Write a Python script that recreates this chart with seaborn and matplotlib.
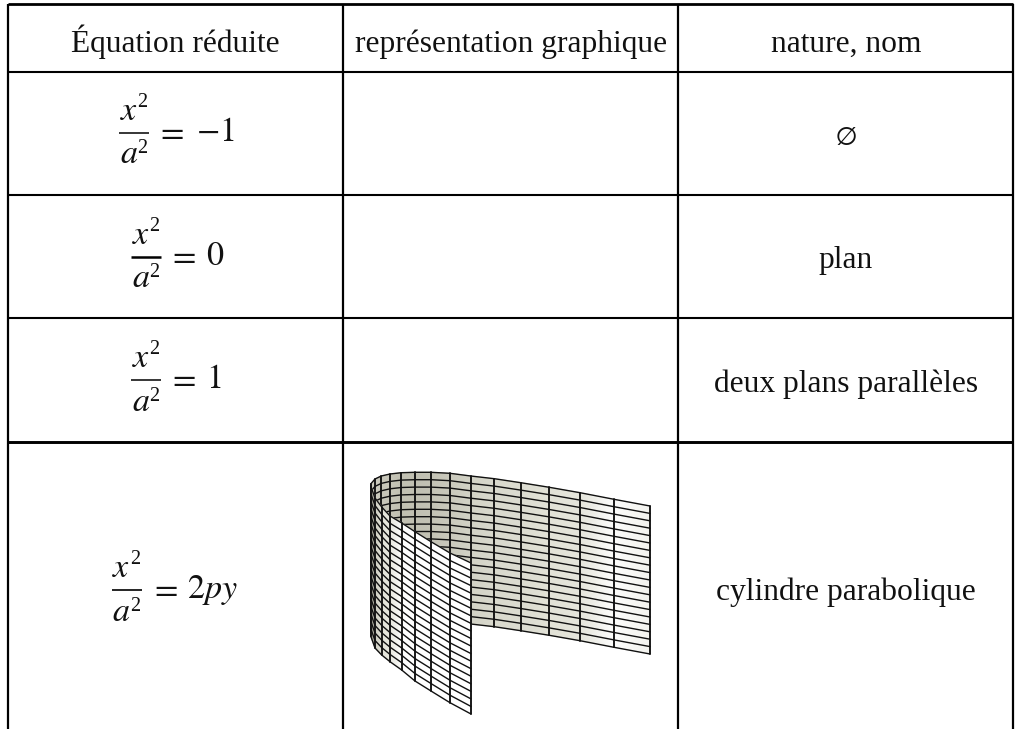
import numpy as np
import pandas as pd
import matplotlib
matplotlib.use("Agg")
import matplotlib.pyplot as plt
import seaborn as sns

# ---- table content ----
headers = ["Équation réduite", "représentation graphique", "nature, nom"]
equation_rhs = [r"$-1$", r"$0$", r"$1$", r"$2py$"]
natures = ["plan", "deux plans parallèles", "cylindre parabolique"]
empty_set = r"$\varnothing$"

column_rules = [8, 343, 678, 1013]
row_rules = [4, 71.5, 194.5, 317.5, 441.5]
row_widths = [2.0, 1.5, 1.5, 1.5, 2.1]
header_base = [52]
bar_y = [132.7, 256.7, 380, 590]
bar_left = [119, 131, 131, 112]
bar_width = [1.1, 1.8, 1.1, 1.2]
equal_left = [155.5, 168, 168, 149.5]
rhs_left = [195.5, 206, 206, 187]
nature_base = [268.3, 391.5, 600]
column_centers = [175.5, 511, 846]

# ---- surface ribs (back sheet, from open end to the fold) ----
back_x = [650, 614, 580, 549.3, 520.7, 494.3, 470.7, 450, 431, 415, 401.3, 390, 381.3, 375, 370.7]
back_top = [506, 499.3, 492.7, 487.3, 482.7, 478.7, 476, 473.3, 472.3, 472.3, 472.7, 474, 476, 479, 484]
back_shade = [0.94, 0.99, 0.87, 0.84, 0.80, 0.77, 0.74, 0.71, 0.69, 0.68, 0.68, 0.70, 0.70, 0.72, 0.70]
# front sheet, from the fold to the near edge
front_x = [370.7, 375, 381.7, 390, 401.7, 415, 431, 450, 471]
front_top = [486, 498, 507, 516, 523, 531.7, 541.7, 553, 563]
front_bottom = [636, 648, 655, 661.7, 670, 681, 691, 702.7, 714]
front_shade = [0.55, 0.72, 0.85, 0.88, 0.99, 1.0, 1.0, 1.0, 1.0]
back_height = [148]
segments = [20]

sns.set_theme(style="white")
plt.rcParams["font.family"] = ["Liberation Serif", "DejaVu Serif"]
plt.rcParams["mathtext.fontset"] = "stix"

fig = plt.figure(figsize=(10.16, 7.29), dpi=100, facecolor="white")
ax = fig.add_axes([0, 0, 1, 1])
ax.set_xlim(0, 1016)
ax.set_ylim(729, 0)
ax.axis("off")

cmap = sns.blend_palette(["#6f6e62", "#b0ae9f", "#d6d6ca", "#e6e6dc", "#ffffff"], as_cmap=True)


def sheet(xs, tops, bottoms, shades, z):
    xs, tops, bottoms = map(np.asarray, (xs, tops, bottoms))
    frac = np.arange(segments[0] + 1) / segments[0]
    X = np.tile(xs, (len(frac), 1))
    Y = np.outer(frac, bottoms - tops) + tops
    C = np.tile(np.asarray(shades), (len(frac), 1))
    ax.pcolormesh(X, Y, C, cmap=cmap, vmin=0.5, vmax=1.0, shading="gouraud", zorder=z)
    ribs = pd.DataFrame({"x": X.ravel(order="F"), "y": Y.ravel(order="F"),
                         "u": np.repeat(np.arange(len(xs)), len(frac))})
    sns.lineplot(data=ribs, x="x", y="y", units="u", estimator=None, sort=False,
                 color="#111111", lw=1.35, ax=ax, zorder=z + 0.1, legend=False)
    rows = pd.DataFrame({"x": X.ravel(), "y": Y.ravel(),
                         "u": np.repeat(np.arange(len(frac)), len(xs))})
    sns.lineplot(data=rows, x="x", y="y", units="u", estimator=None, sort=False,
                 color="#111111", lw=1.0, ax=ax, zorder=z + 0.2, legend=False)


sheet(back_x, back_top, np.array(back_top) + back_height[0], back_shade, 2)
sheet(front_x, front_top, front_bottom, front_shade, 3)

# ---- table rules ----
ax.vlines(column_rules, row_rules[0], 729, color="black", lw=1.6, zorder=5)
for y, w in zip(row_rules, row_widths):
    ax.hlines(y, column_rules[0], column_rules[-1], color="black", lw=w, zorder=5,
              capstyle="butt")

# ---- text ----
TXT = "#111111"
TS = 22.7
MS = 24.5
SS = 14.5
for x, h in zip(column_centers, headers):
    ax.text(x, header_base[0], h, ha="center", va="baseline", fontsize=TS, color=TXT)
for by, left, bw, rhs, el, rl in zip(bar_y, bar_left, bar_width, equation_rhs, equal_left, rhs_left):
    ax.plot([left, left + 30], [by, by], color="black", lw=bw, solid_capstyle="butt", zorder=6)
    ax.text(left + 0.5, by - 12.7, r"$x$", ha="left", va="baseline", fontsize=MS, color=TXT)
    ax.text(left + 18, by - 25.7, "2", ha="left", va="baseline", fontsize=SS, color=TXT)
    ax.text(left + 0.5, by + 30.6, r"$a$", ha="left", va="baseline", fontsize=MS, color=TXT)
    ax.text(left + 18, by + 20.6, "2", ha="left", va="baseline", fontsize=SS, color=TXT)
    ax.text(el, by + 8.3, r"$=$", ha="left", va="baseline", fontsize=MS, color=TXT)
    ax.text(rl, by + 8.3, rhs, ha="left", va="baseline", fontsize=MS, color=TXT)
ax.text(column_centers[2], 136, empty_set, ha="center", va="center", fontsize=20, color=TXT)
for y, n in zip(nature_base, natures):
    ax.text(column_centers[2], y, n, ha="center", va="baseline", fontsize=TS, color=TXT)
ax.set_xlabel("")
ax.set_ylabel("")
fig.savefig("out.png", dpi=100, facecolor="white")
